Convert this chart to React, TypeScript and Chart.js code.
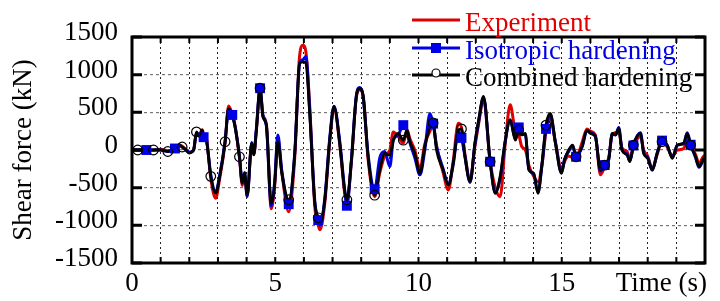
import React, { useEffect, useRef } from 'react';
import { Chart, registerables } from 'chart.js';

Chart.register(...registerables);

// ---- data (time in s, shear force in kN) ----
const TIME = [
  0, 0.2, 0.5, 0.75, 1.0, 1.25, 1.5, 1.65, 1.75, 1.85, 2.0, 2.15, 2.25, 2.35, 2.45, 2.5, 2.6, 2.75, 2.92, 3.06,
  3.25, 3.37, 3.5, 3.6, 3.75, 3.85, 3.93, 4.02, 4.18, 4.25, 4.34, 4.47, 4.57, 4.69, 4.86, 4.98, 5.09, 5.23, 5.47, 5.68,
  5.85, 5.97, 6.07, 6.2, 6.38, 6.5, 6.56, 6.73, 6.9, 7.05, 7.25, 7.42, 7.5, 7.66, 7.83, 7.95, 8.07, 8.24, 8.47, 8.65,
  8.82, 9.0, 9.12, 9.29, 9.47, 9.6, 9.7, 9.87, 10.05, 10.22, 10.4, 10.51, 10.63, 10.86, 11.04, 11.21, 11.39, 11.5, 11.62, 11.8,
  11.97, 12.1, 12.27, 12.5, 12.68, 12.85, 13.03, 13.2, 13.38, 13.5, 13.6, 13.73, 13.85, 14.02, 14.17, 14.31, 14.45, 14.6, 14.78, 14.99,
  15.1, 15.24, 15.38, 15.5, 15.71, 15.88, 16.0, 16.17, 16.35, 16.5, 16.64, 16.76, 16.88, 16.99, 17.1, 17.28, 17.38, 17.5, 17.75, 17.86,
  18.0, 18.16, 18.33, 18.5, 18.68, 18.86, 19.03, 19.26, 19.38, 19.5, 19.67, 19.79, 19.96, 20.0,
];

const COMBINED = [
  0, 0, 0, 0, 0, -20, 10, 65, 40, 10, -40, 0, 240, 180, 265, 200, 130, -350, -575, -350,
  110, 550, 465, 300, -90, -440, -310, -600, 90, -65, 260, 820, 440, 330, -710, -450, 110, -310, -660, -50,
  1150, 1170, 1150, 500, -700, -900, -970, -660, 130, 575, 90, -530, -660, -130, 710, 820, 710, -90, -600, -265,
  -45, -70, 130, 220, 130, 265, 110, -45, -310, 45, 310, 360, 0, -265, -465, -180, 265, 280, -90, -420,
  100, 400, 710, -155, -575, -350, 130, 400, 130, 265, 200, 220, -265, -310, -575, -180, 330, 485, 90, -310,
  -130, 0, 65, -90, 45, 265, 220, 180, -265, -200, -130, 220, 200, 290, 0, -65, -155, 65, 220, -45,
  -110, -265, -45, 110, 65, -110, 65, 90, 220, 65, -90, -220, -110, -100,
];

const ISOTROPIC = [
  0, 0, 0, 0, 0, -20, 20, 60, 40, 10, -30, 0, 220, 190, 250, 170, 120, -330, -560, -340,
  120, 540, 465, 310, -80, -430, -300, -620, 100, -50, 280, 820, 460, 320, -740, -420, 200, -280, -720, -40,
  1150, 1200, 1240, 550, -680, -930, -1000, -640, 150, 580, 120, -520, -740, -120, 720, 830, 700, -60, -520, -100,
  -20, -220, 130, 200, 330, 250, 100, -100, -330, 0, 485, 350, 50, -250, -450, -200, 250, 160, -80, -430,
  80, 380, 700, -155, -560, -380, 120, 400, 150, 300, 210, 200, -250, -320, -560, -200, 280, 470, 100, -300,
  -120, -20, 60, -90, 40, 260, 230, 190, -280, -200, -120, 210, 200, 300, 10, -60, -150, 60, 230, -40,
  -100, -270, -40, 125, 60, -100, 60, 90, 230, 70, -100, -230, -120, -110,
];

const EXPERIMENT = [
  0, 0, 0, 0, 10, -10, 10, 70, 50, 20, -30, 0, 230, 200, 270, 210, 150, -380, -640, -380,
  100, 585, 480, 320, -100, -470, -330, -600, 80, -60, 250, 810, 460, 350, -780, -480, 150, -300, -820, -100,
  1250, 1390, 1300, 600, -750, -1000, -1060, -700, 100, 560, 80, -560, -680, -150, 700, 800, 720, -120, -620, -300,
  -80, 0, 240, 180, 90, 270, 150, 0, -250, 80, 250, 330, 50, -300, -530, -150, 355, 300, -50, -400,
  50, 350, 680, -150, -500, -620, 100, 600, 250, 200, 50, 0, -200, -350, -420, -200, 250, 420, 100, -250,
  -150, -80, -100, -100, 100, 280, 250, 200, -330, -220, -100, 200, 230, 250, 30, -20, -120, 40, 180, 0,
  -80, -250, -60, 120, 40, -80, 0, 20, 180, 60, -60, -180, -80, -80,
];

const SQUARE_TIMES = [0.5, 1.5, 2.5, 3.5, 4.47, 5.47, 6.5, 7.5, 8.47, 9.47, 10.51, 11.5, 12.5, 13.5, 14.45, 15.5, 16.5, 17.5, 18.5, 19.5];
const CIRCLE_TIMES = [0.2, 0.75, 1.25, 1.75, 2.25, 2.75, 3.25, 3.75, 4.47, 5.47, 6.5, 7.5, 8.47, 9.47, 10.51, 11.5, 12.5, 13.5, 14.45, 15.5, 16.5, 17.5, 18.5, 19.5];

const X_LABEL_VALUES = [0, 5, 10, 15];
const X_TITLE = 'Time (s)';
const Y_TITLE = 'Shear force (kN)';
const SERIES_NAMES = ['Experiment', 'Isotropic hardening', 'Combined hardening'];

const RED = '#e00000';
const BLUE = '#0000e6';
const BLACK = '#000000';
const FONT = 'Liberation Serif, "Times New Roman", serif';
const FONT_SIZE = 27;

const pts = (ys: number[]) => TIME.map((t, i) => ({ x: t, y: ys[i] }));

const decorPlugin = {
  id: 'decor',
  afterDatasetsDraw(chart: any) {
    const { ctx, chartArea: a, scales } = chart;
    ctx.save();
    ctx.setLineDash([]);
    ctx.strokeStyle = '#000';
    ctx.lineWidth = 2;
    for (const tk of scales.x.ticks) {
      const x = scales.x.getPixelForValue(tk.value);
      ctx.beginPath();
      ctx.moveTo(x, a.bottom);
      ctx.lineTo(x, a.bottom - 6);
      ctx.moveTo(x, a.top);
      ctx.lineTo(x, a.top + 6);
      ctx.stroke();
    }
    ctx.lineWidth = 3;
    for (const tk of scales.y.ticks) {
      const y = scales.y.getPixelForValue(tk.value);
      ctx.beginPath();
      ctx.moveTo(a.left, y);
      ctx.lineTo(a.left + 10, y);
      ctx.moveTo(a.right, y);
      ctx.lineTo(a.right - 10, y);
      ctx.stroke();
    }
    ctx.lineWidth = 3;
    ctx.strokeRect(a.left, a.top, a.right - a.left, a.bottom - a.top);
    ctx.restore();
  },
  afterDraw(chart: any) {
    const { ctx, chartArea: a } = chart;
    ctx.save();
    ctx.font = `${FONT_SIZE}px ${FONT}`;
    ctx.textBaseline = 'middle';
    ctx.fillStyle = '#000';
    ctx.textAlign = 'right';
    ctx.fillText(X_TITLE, chart.width - 13, a.bottom + 21);

    const colors = [RED, BLUE, BLACK];
    const lineY = [20, 48, 75];
    const x0 = 412;
    const x1 = 460;
    ctx.textAlign = 'left';
    ctx.textBaseline = 'alphabetic';
    SERIES_NAMES.forEach((name, i) => {
      const y = lineY[i];
      ctx.strokeStyle = colors[i];
      ctx.lineWidth = 3;
      ctx.beginPath();
      ctx.moveTo(x0, y);
      ctx.lineTo(x1, y);
      ctx.stroke();
      const cx = (x0 + x1) / 2;
      if (i === 1) {
        ctx.fillStyle = BLUE;
        ctx.fillRect(cx - 5, y - 5, 10, 10);
      } else if (i === 2) {
        ctx.fillStyle = '#fff';
        ctx.lineWidth = 1.2;
        ctx.strokeStyle = BLACK;
        ctx.beginPath();
        ctx.arc(cx, y - 2, 4, 0, Math.PI * 2);
        ctx.fill();
        ctx.stroke();
      }
      ctx.fillStyle = colors[i];
      ctx.fillText(name, 465, y + 11);
    });
    ctx.restore();
  },
};

export default function App() {
  const ref = useRef<HTMLCanvasElement | null>(null);

  useEffect(() => {
    if (!ref.current) return;
    const lineBase = {
      pointRadius: 0,
      borderWidth: 3,
      fill: false,
      cubicInterpolationMode: 'monotone' as const,
    };
    const chart = new Chart(ref.current, {
      type: 'line',
      data: {
        datasets: [
          { ...lineBase, label: SERIES_NAMES[0], data: pts(EXPERIMENT), borderColor: RED, order: 4 },
          { ...lineBase, label: SERIES_NAMES[1], data: pts(ISOTROPIC), borderColor: BLUE, order: 3 },
          { ...lineBase, label: SERIES_NAMES[2], data: pts(COMBINED), borderColor: BLACK, borderWidth: 2.8, order: 2 },
          {
            label: SERIES_NAMES[1] + ' markers',
            data: pts(ISOTROPIC),
            showLine: false,
            pointStyle: 'rect',
            pointRadius: (c: any) => (SQUARE_TIMES.includes(TIME[c.dataIndex]) ? 7 : 0),
            pointBackgroundColor: BLUE,
            pointBorderColor: BLUE,
            pointBorderWidth: 0,
            order: 1,
          },
          {
            label: SERIES_NAMES[2] + ' markers',
            data: pts(COMBINED),
            showLine: false,
            pointStyle: 'circle',
            pointRadius: (c: any) => (CIRCLE_TIMES.includes(TIME[c.dataIndex]) ? 4.8 : 0),
            pointBackgroundColor: 'rgba(0,0,0,0)',
            pointBorderColor: BLACK,
            pointBorderWidth: 1.2,
            order: 0,
          },
        ],
      },
      options: {
        animation: false,
        responsive: true,
        maintainAspectRatio: false,
        events: [],
        layout: { padding: { top: 37, right: 15, left: 0, bottom: 0 } },
        plugins: { legend: { display: false }, tooltip: { enabled: false } },
        scales: {
          x: {
            type: 'linear',
            min: 0,
            max: 20,
            afterFit: (s: any) => { s.height = 38; },
            ticks: {
              stepSize: 1,
              autoSkip: false,
              maxRotation: 0,
              padding: 5,
              color: '#000',
              font: { family: FONT, size: FONT_SIZE },
              callback: (v: any) => (X_LABEL_VALUES.includes(Number(v)) ? String(v) : ''),
            },
            grid: { color: '#222', lineWidth: 1, drawTicks: false },
            border: { display: false, dash: [2, 3] },
          },
          y: {
            type: 'linear',
            min: -1500,
            max: 1500,
            afterFit: (s: any) => { s.width = 132; },
            title: {
              display: true,
              text: Y_TITLE,
              color: '#000',
              font: { family: FONT, size: FONT_SIZE },
              padding: { top: 8, bottom: 0 },
            },
            ticks: {
              stepSize: 500,
              padding: 14,
              labelOffset: -4,
              color: '#000',
              font: { family: FONT, size: FONT_SIZE },
              callback: (v: any) => String(v),
            },
            grid: { color: '#777', lineWidth: 1.2, drawTicks: false },
            border: { display: false, dash: [3, 3] },
          },
        },
      },
      plugins: [decorPlugin],
    } as any);
    return () => chart.destroy();
  }, []);

  return (
    <div style={{ position: 'fixed', left: 0, top: 0, width: 720, height: 301, background: '#fff' }}>
      <canvas ref={ref} />
    </div>
  );
}
